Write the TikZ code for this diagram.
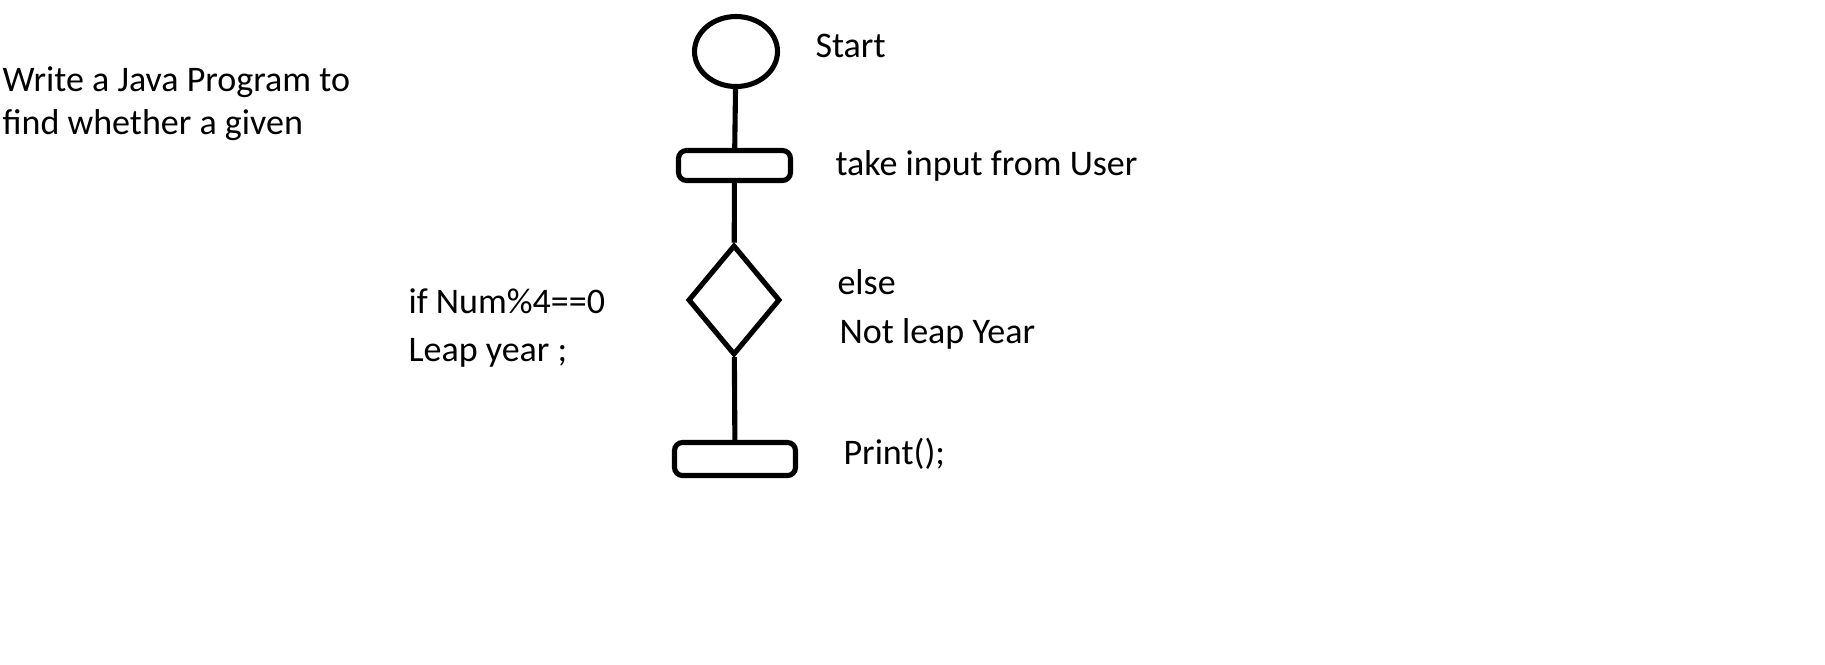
\documentclass[tikz,border=0pt]{standalone}
\usepackage{fontspec}
\setmainfont{Carlito}
\usetikzlibrary{shapes.geometric,positioning}

\begin{document}
\begin{tikzpicture}[x=0.02cm, y=-0.02cm, line width=2.9pt,
    box/.style={draw, rectangle, rounded corners=0.16cm, inner sep=0},
    txt/.style={anchor=base west, inner sep=0, font=\fontsize{20.5}{24}\selectfont}]
  \useasboundingbox (0,0) rectangle (1825,664);
  \node[draw, ellipse, minimum width=1.66cm, minimum height=1.4cm, inner sep=0] (start) at (736,51.5) {};
  \node[box, minimum width=2.24cm, minimum height=0.6cm] (input) at (734.5,165.5) {};
  \node[draw, diamond, minimum width=1.84cm, minimum height=2.2cm, inner sep=0] (check) at (734,300) {};
  \node[box, minimum width=2.42cm, minimum height=0.66cm] (print) at (735,459) {};
  \draw (start) -- (input);
  \draw (input) -- (check);
  \draw (check) -- (print);
  \node[txt] (lstart) at (813,57) {Start};
  \node[txt] (linput) at (833,175) {take input from User};
  \node[txt] (lelse) at (835,294) {else};
  \node[txt] (lnot) at (837,343) {Not leap Year};
  \node[txt] (lprint) at (841,464) {Print();};
  \node[txt] (lif) at (406,313) {if Num\%4==0};
  \node[txt] (lleap) at (406,361) {Leap year ;};
  \node[txt] (task1) at (0,91) {Write a Java Program to};
  \node[txt] (task2) at (0,134) {find whether a given};
\end{tikzpicture}
\end{document}
